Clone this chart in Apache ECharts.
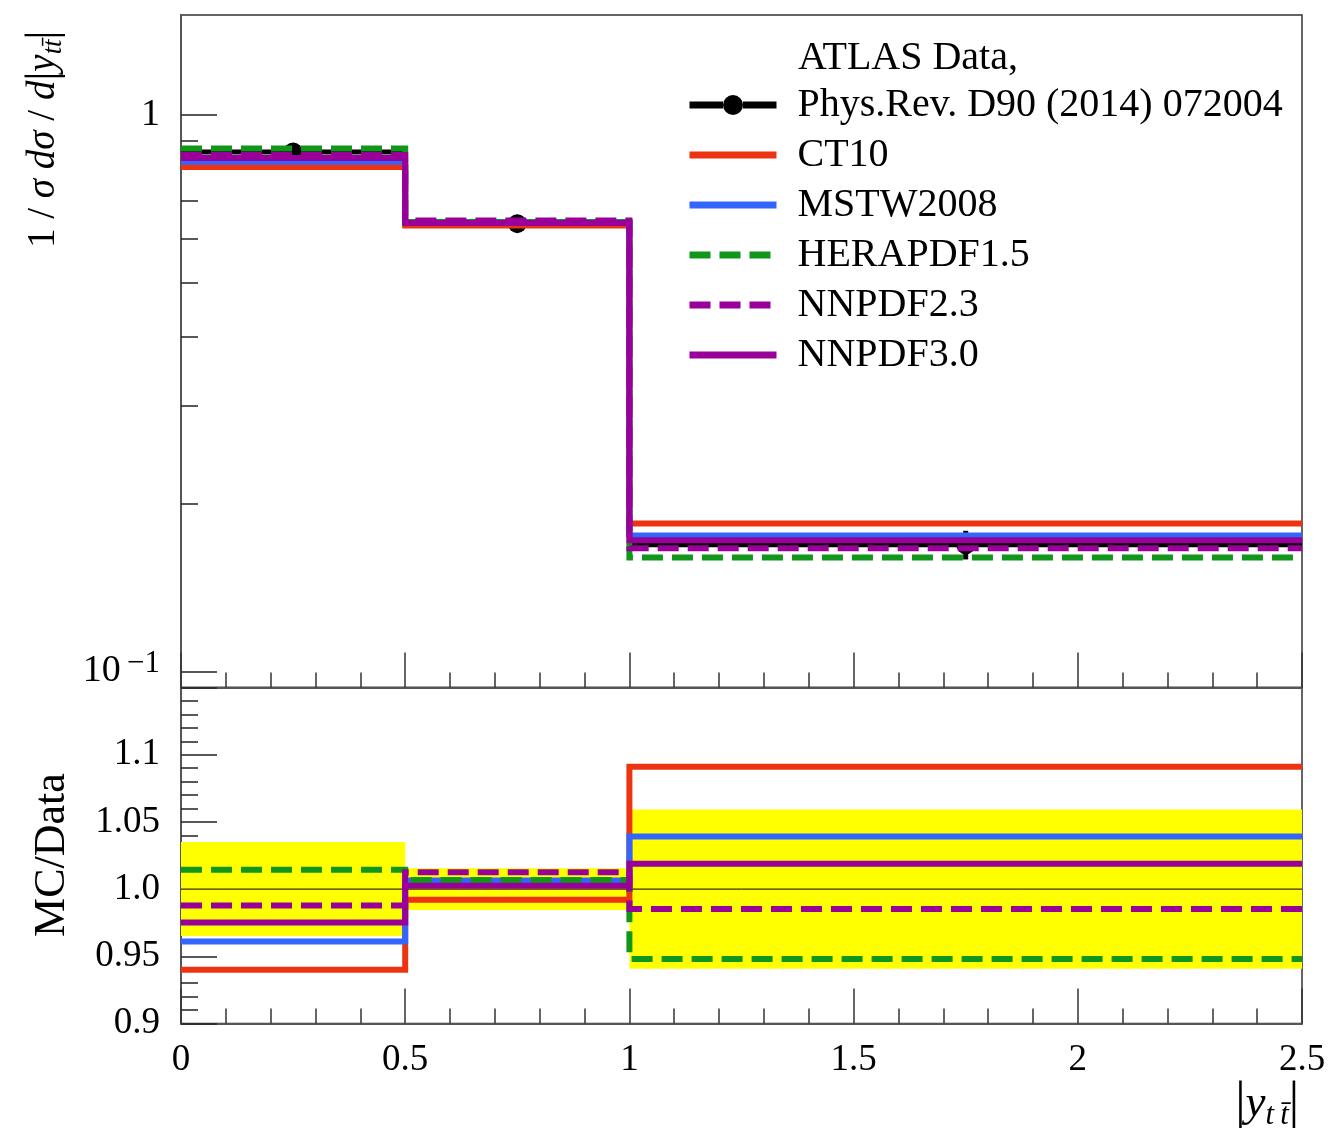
<!DOCTYPE html>
<html>
<head>
<meta charset="utf-8">
<script src="https://cdn.jsdelivr.net/npm/echarts@6/dist/echarts.min.js"></script>
<style>
  html, body { margin: 0; padding: 0; background: #ffffff; }
  #chart { width: 1329px; height: 1128px; }
</style>
</head>
<body>
<div id="chart"></div>
<script>
// Bin edges of |y_ttbar| and the normalised cross-section per bin
const binEdges = [0, 0.5, 1, 2.5];
const dataValues = [0.858, 0.638, 0.169];
const dataErrors = [0.030, 0.0099, 0.0100];

// PDF set predictions, same binning
const ct10      = [0.8065, 0.6329, 0.1844];
const mstw2008  = [0.8245, 0.6421, 0.1756];
const herapdf15 = [0.8704, 0.6423, 0.1602];
const nnpdf23   = [0.8475, 0.6460, 0.1665];
const nnpdf30   = [0.8367, 0.6396, 0.1722];

// Axis ranges and tick values
const xRange = [0, 2.5];
const xMajorStep = 0.5;
const logRange = [0.0936, 1.5126];
const logMajorTicks = [0.1, 1];
const logMinorTicks = [0.2, 0.3, 0.4, 0.5, 0.6, 0.7, 0.8, 0.9];
const ratioRange = [0.9, 1.15];
const ratioStep = 0.05;

const dataLabelTop = 'ATLAS Data,';
const dataLabel = 'Phys.Rev. D90 (2014) 072004';

const FONT = 'Liberation Serif';
const INK = '#000000';
const FRAME = '#555555';
const DASH = [21, 9];

const predictions = [
  { name: 'CT10',       values: ct10,      color: '#ee3311', dash: 'solid' },
  { name: 'MSTW2008',   values: mstw2008,  color: '#3366ff', dash: 'solid' },
  { name: 'HERAPDF1.5', values: herapdf15, color: '#109618', dash: DASH },
  { name: 'NNPDF2.3',   values: nnpdf23,   color: '#990099', dash: DASH },
  { name: 'NNPDF3.0',   values: nnpdf30,   color: '#990099', dash: 'solid' }
];

// histogram outline: one point per bin edge, drawn with step:'end'
function stepPoints(vals) {
  return binEdges.map((x, i) => [x, vals[Math.min(i, vals.length - 1)]]);
}
function ratioTo(vals) {
  return vals.map((v, i) => v / dataValues[i]);
}

function mathRich(size) {
  return {
    n: { fontFamily: FONT, fontSize: size, lineHeight: size * 1.2, color: INK },
    b: { fontFamily: FONT, fontSize: size * 1.15, lineHeight: size * 1.2, color: INK },
    i: { fontFamily: FONT, fontStyle: 'italic', fontSize: size, lineHeight: size * 1.2, color: INK },
    s: { fontFamily: FONT, fontStyle: 'italic', fontSize: size * 0.68, lineHeight: size * 0.68, verticalAlign: 'bottom', color: INK }
  };
}

const xAxisCommon = {
  type: 'value',
  min: xRange[0],
  max: xRange[1],
  interval: xMajorStep,
  axisLine: { show: true, onZero: false, lineStyle: { color: FRAME, width: 2 } },
  axisTick: { show: true, inside: true, length: 35, lineStyle: { color: '#333', width: 1.5 } },
  minorTick: { show: true, splitNumber: 5, length: 15, lineStyle: { color: '#333', width: 1.5 } },
  splitLine: { show: false },
  minorSplitLine: { show: false }
};

const series = [];

// data uncertainty band in the ratio panel
series.push({
  type: 'custom',
  name: 'band',
  xAxisIndex: 1,
  yAxisIndex: 2,
  silent: true,
  z: 1,
  data: dataValues.map((v, i) => [binEdges[i], binEdges[i + 1], dataErrors[i] / v]),
  renderItem(params, api) {
    const p0 = api.coord([api.value(0), 1 + api.value(2)]);
    const p1 = api.coord([api.value(1), 1 - api.value(2)]);
    return {
      type: 'rect',
      shape: { x: p0[0], y: p0[1], width: p1[0] - p0[0], height: p1[1] - p0[1] },
      style: { fill: '#ffff00' }
    };
  }
});

// unity reference line
series.push({
  type: 'line',
  name: 'unity',
  xAxisIndex: 1,
  yAxisIndex: 2,
  silent: true,
  z: 2,
  symbol: 'none',
  data: [[xRange[0], 1], [xRange[1], 1]],
  lineStyle: { color: INK, width: 1 }
});

// measured points with bin-width and vertical error bars
series.push({
  type: 'custom',
  name: 'ATLAS Data',
  xAxisIndex: 0,
  yAxisIndex: 0,
  z: 3,
  itemStyle: { color: INK },
  encode: { x: [0, 1], y: 2 },
  data: dataValues.map((v, i) => [binEdges[i], binEdges[i + 1], v, dataErrors[i]]),
  renderItem(params, api) {
    const x0 = api.value(0), x1 = api.value(1), y = api.value(2), e = api.value(3);
    const xc = (x0 + x1) / 2;
    const a = api.coord([x0, y]);
    const b = api.coord([x1, y]);
    const c = api.coord([xc, y]);
    const up = api.coord([xc, y + e]);
    const dn = api.coord([xc, y - e]);
    return {
      type: 'group',
      children: [
        { type: 'line', shape: { x1: a[0], y1: a[1], x2: b[0], y2: b[1] }, style: { stroke: INK, lineWidth: 5 } },
        { type: 'line', shape: { x1: c[0], y1: up[1], x2: c[0], y2: dn[1] }, style: { stroke: INK, lineWidth: 5 } },
        { type: 'circle', shape: { cx: c[0], cy: c[1], r: 9.5 }, style: { fill: INK } }
      ]
    };
  }
});

predictions.forEach((p, k) => {
  const common = {
    type: 'line',
    name: p.name,
    step: 'end',
    symbol: 'none',
    z: 4 + k,
    itemStyle: { color: p.color },
    lineStyle: { color: p.color, width: 6, type: p.dash, cap: 'butt', join: 'miter' }
  };
  series.push(Object.assign({}, common, {
    xAxisIndex: 0, yAxisIndex: 0, data: stepPoints(p.values)
  }));
  series.push(Object.assign({}, common, {
    xAxisIndex: 1, yAxisIndex: 2, data: stepPoints(ratioTo(p.values))
  }));
});

const chart = echarts.init(document.getElementById('chart'), null, { renderer: 'canvas' });

chart.setOption({
  animation: false,
  backgroundColor: '#ffffff',
  textStyle: { fontFamily: FONT },
  grid: [
    { left: 181, top: 15, width: 1121, height: 672.5, show: true, borderColor: '#333', borderWidth: 1.5, backgroundColor: 'transparent' },
    { left: 181, top: 687.5, width: 1121, height: 336, show: true, borderColor: '#333', borderWidth: 1.5, backgroundColor: 'transparent' }
  ],
  xAxis: [
    Object.assign({}, xAxisCommon, { gridIndex: 0, axisLabel: { show: false } }),
    Object.assign({}, xAxisCommon, {
      gridIndex: 1,
      axisLabel: {
        show: true, margin: 18, color: INK, fontFamily: FONT, fontSize: 37,
        formatter: v => String(+v.toFixed(1))
      }
    })
  ],
  yAxis: [
    {
      type: 'log',
      gridIndex: 0,
      position: 'left',
      logBase: 10,
      min: logRange[0],
      max: logRange[1],
      axisLine: { show: true, lineStyle: { color: FRAME, width: 2 } },
      axisTick: { show: true, inside: true, length: 36, customValues: logMajorTicks, lineStyle: { color: '#222', width: 1.5 } },
      axisLabel: {
        show: true, margin: 21, color: INK, fontFamily: FONT, fontSize: 37,
        customValues: logMajorTicks,
        formatter: v => (Math.abs(v - 1) < 1e-9 ? '{m|1}' : '{m|10}{p|\u2009\u22121}'),
        rich: {
          m: { fontFamily: FONT, fontSize: 38, lineHeight: 46, color: INK },
          p: { fontFamily: FONT, fontSize: 31, lineHeight: 28, verticalAlign: 'top', color: INK }
        }
      },
      splitLine: { show: false }
    },
    {
      type: 'log',
      gridIndex: 0,
      position: 'left',
      offset: 0,
      logBase: 10,
      min: logRange[0],
      max: logRange[1],
      axisLine: { show: false },
      axisTick: { show: true, inside: true, length: 17, customValues: logMinorTicks, lineStyle: { color: '#222', width: 1.5 } },
      axisLabel: { show: false },
      splitLine: { show: false }
    },
    {
      type: 'value',
      gridIndex: 1,
      position: 'left',
      min: ratioRange[0],
      max: ratioRange[1],
      interval: ratioStep,
      axisLine: { show: true, lineStyle: { color: FRAME, width: 2 } },
      axisTick: { show: true, inside: true, length: 36, lineStyle: { color: '#222', width: 1.5 } },
      minorTick: { show: true, splitNumber: 5, length: 17, lineStyle: { color: '#222', width: 1.5 } },
      axisLabel: {
        show: true, margin: 21, color: INK, fontFamily: FONT, fontSize: 37,
        formatter: v => {
          if (Math.abs(v - ratioRange[1]) < 1e-9) return '';
          if (Math.abs(v - 1) < 1e-9) return '1.0';
          return String(+v.toFixed(2));
        }
      },
      splitLine: { show: false },
      minorSplitLine: { show: false }
    }
  ],
  legend: {
    orient: 'vertical',
    left: 686,
    top: 80,
    padding: 0,
    itemGap: 0,
    itemWidth: 87,
    itemHeight: 20,
    selectedMode: false,
    lineStyle: { width: 7 },
    textStyle: { fontFamily: FONT, fontSize: 40, lineHeight: 50, color: INK, padding: [0, 0, 0, 16] },
    formatter: name => (name === 'ATLAS Data' ? dataLabel : name),
    data: [
      { name: 'ATLAS Data', icon: 'path://M0,6.5H33.5V13.5H0Z M53.5,6.5H87V13.5H53.5Z M33.5,10A10,10 0 1,0 53.5,10A10,10 0 1,0 33.5,10Z' }
    ].concat(predictions.map(p => ({ name: p.name, itemStyle: { opacity: 0 } })))
  },
  graphic: [
    {
      type: 'text', x: 798, y: 58, silent: true,
      style: { text: dataLabelTop, fontFamily: FONT, fontSize: 40, fill: INK, verticalAlign: 'middle', align: 'left' }
    },
    {
      type: 'text', x: 44, y: 248, rotation: Math.PI / 2, silent: true,
      style: {
        text: '{n|1 / }{i|\u03c3 d\u03c3 }{n|/ }{i|d}{b||}{i|y}{s|tt\u0304}{b||}',
        rich: mathRich(39), align: 'left', verticalAlign: 'middle'
      }
    },
    {
      type: 'text', x: 52, y: 855, rotation: Math.PI / 2, silent: true,
      style: { text: 'MC/Data', fontFamily: FONT, fontSize: 44, fill: INK, align: 'center', verticalAlign: 'middle' }
    },
    {
      type: 'text', x: 1299, y: 1104, silent: true,
      style: {
        text: '{b||}{i|y}{s|t\u2009t\u0304}{b||}',
        rich: mathRich(45), align: 'right', verticalAlign: 'middle'
      }
    }
  ],
  series: series
});
</script>
</body>
</html>
